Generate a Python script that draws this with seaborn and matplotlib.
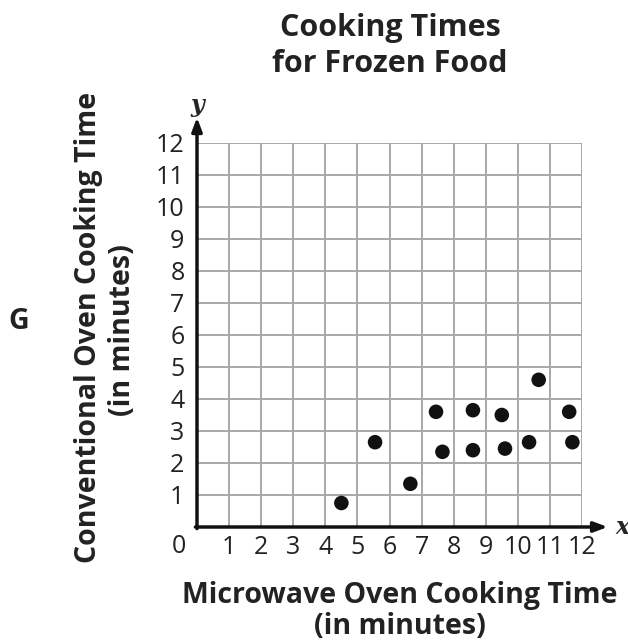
import matplotlib
matplotlib.use("Agg")
import matplotlib.pyplot as plt
import seaborn as sns
import pandas as pd

# values
microwave = [4.5, 5.55, 6.65, 7.45, 7.65, 8.6, 8.6, 9.5, 9.6, 10.35, 10.65, 11.6, 11.7]
conventional = [0.75, 2.65, 1.35, 3.6, 2.35, 3.65, 2.4, 3.5, 2.45, 2.65, 4.6, 3.6, 2.65]
tick_values = list(range(1, 13))
tick_labels = [str(t) for t in tick_values]

sns.set_style("white")
plt.rcParams["font.family"] = ["Open Sans", "DejaVu Sans"]

W, H = 628, 642
fig = plt.figure(figsize=(W / 100, H / 100), dpi=100)
ax = fig.add_axes([197 / W, 1 - 527 / H, 385 / W, 384 / H])

df = pd.DataFrame({"microwave": microwave, "conventional": conventional})
sns.scatterplot(data=df, x="microwave", y="conventional", ax=ax, s=110,
                color="#111111", edgecolor="none", zorder=5, clip_on=False)

ax.set_xlim(0, 12)
ax.set_ylim(0, 12)
ax.set_xticks(tick_values, tick_labels)
ax.set_yticks(tick_values, tick_labels)
ax.grid(True, color="#a8a8a8", lw=1.4)
ax.tick_params(length=0, labelsize=18, colors="#222222")
ax.tick_params(axis="x", pad=6)
ax.tick_params(axis="y", pad=9)
ax.set_xlabel("")
ax.set_ylabel("")
for s in ["top", "right", "left", "bottom"]:
    ax.spines[s].set_visible(False)

# axes with arrow heads
arrow = dict(arrowstyle="-|>,head_length=0.8,head_width=0.3", lw=2.5, color="#111111",
             shrinkA=0, shrinkB=0)
ax.annotate("", xy=(12.8, 0), xytext=(-0.05, 0), arrowprops=arrow, annotation_clip=False)
ax.annotate("", xy=(0, 12.8), xytext=(0, -0.05), arrowprops=arrow, annotation_clip=False)
ax.text(13.25, 0, "x", fontsize=17, style="italic", weight="bold", family="DejaVu Serif",
        ha="center", va="center", clip_on=False)
ax.text(0, 13.2, "y", fontsize=17, style="italic", weight="bold", family="DejaVu Serif",
        ha="center", va="center", clip_on=False)
ax.text(-0.58, -0.6, "0", fontsize=18, color="#222222", ha="center", va="center", clip_on=False)

# titles and labels
def px(x, y):
    return x / W, 1 - y / H

title = dict(fontsize=22, weight="bold", color="#222222", ha="center", va="center")
bold = dict(fontsize=20.5, weight="bold", color="#222222", ha="center", va="center")
fig.text(*px(390, 28), "Cooking Times", **title)
fig.text(*px(390, 64), "for Frozen Food", **title)
fig.text(*px(400, 595), "Microwave Oven Cooking Time", **bold)
fig.text(*px(400, 627), "(in minutes)", **bold)
fig.text(*px(89, 327), "Conventional Oven Cooking Time", rotation=90, **bold)
fig.text(*px(123, 330), "(in minutes)", rotation=90, **bold)
fig.text(*px(19, 322), "G", **bold)

fig.savefig("out.png", dpi=100)
